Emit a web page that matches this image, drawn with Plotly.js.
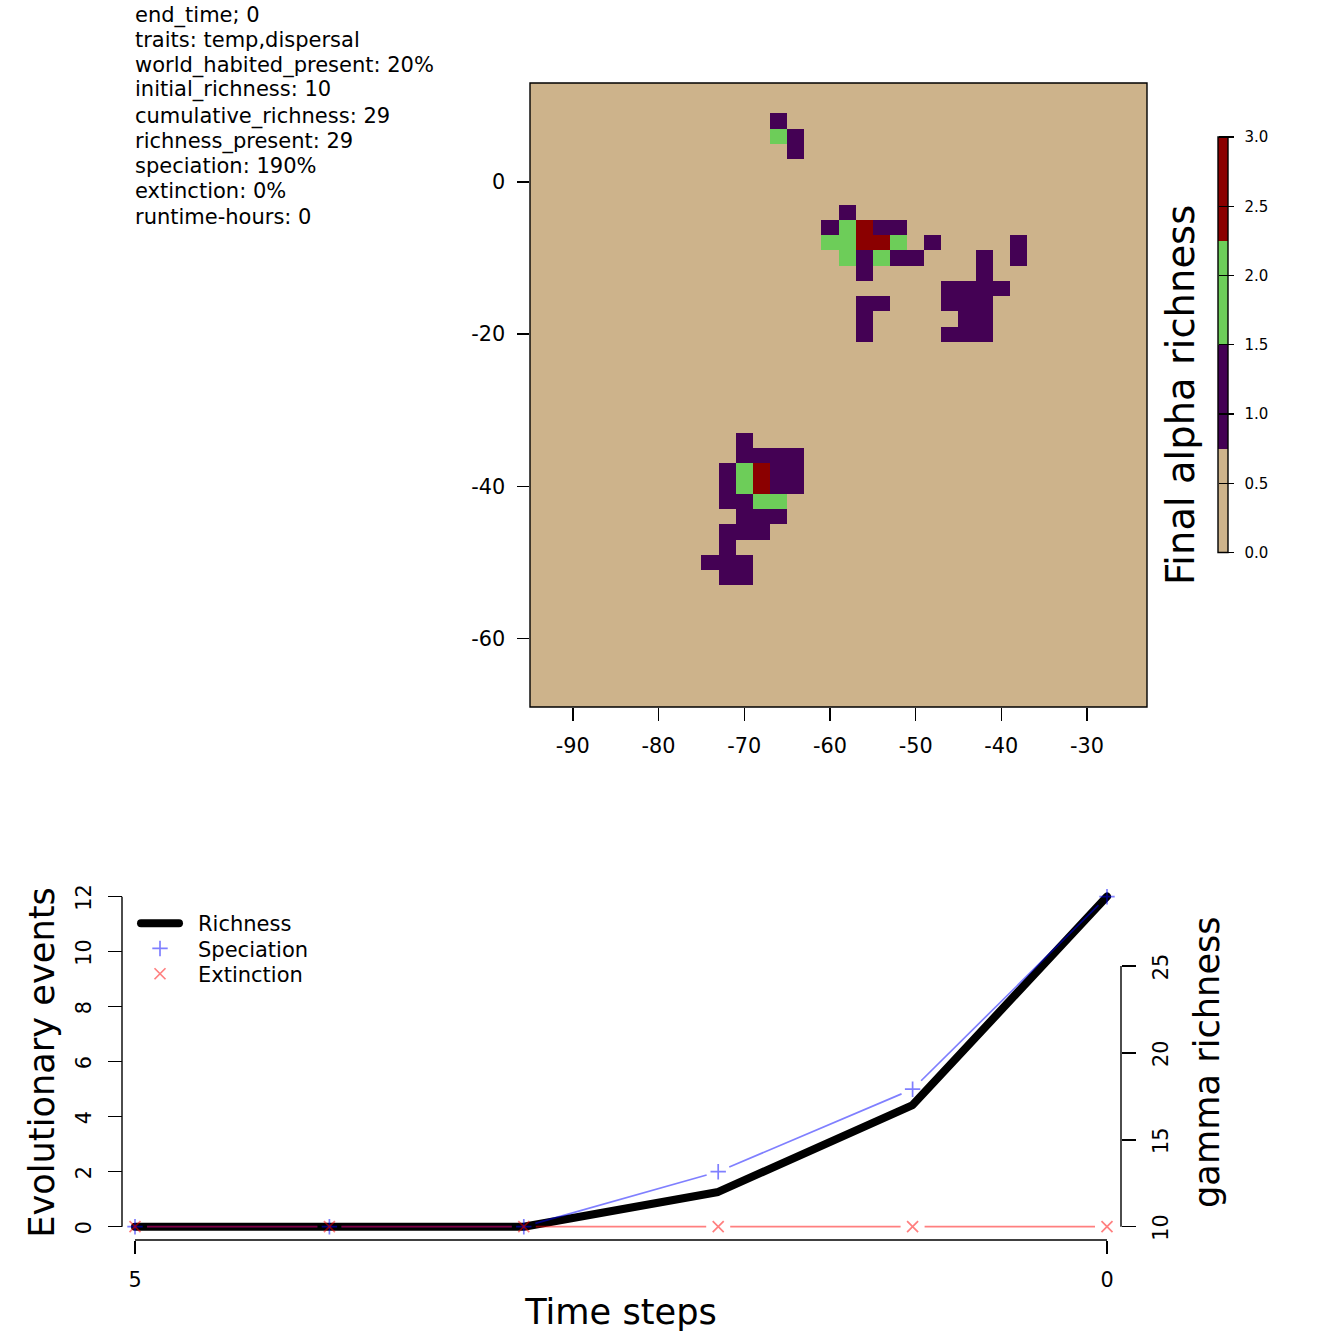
<!DOCTYPE html>
<html>
<head>
<meta charset="utf-8">
<script src="https://cdn.plot.ly/plotly-3.0.1.min.js"></script>
<style>
html,body{margin:0;padding:0;background:#fff}
#chart{width:1344px;height:1344px}
.round-ends{stroke-linecap:round;stroke-linejoin:round}
</style>
</head>
<body>
<div id="chart"></div>
<script>
// ---- info text ----
const infoLines = ["end_time; 0","traits: temp,dispersal","world_habited_present: 20%","initial_richness: 10","cumulative_richness: 29","richness_present: 29","speciation: 190%","extinction: 0%","runtime-hours: 0"];
const infoCentres = [15,40,65,90,116,141,166,191,217];

// ---- map grid (2 degree cells), non-empty cells listed per latitude ----
const gridLon = [-94,-92,-90,-88,-86,-84,-82,-80,-78,-76,-74,-72,-70,-68,-66,-64,-62,-60,-58,-56,-54,-52,-50,-48,-46,-44,-42,-40,-38,-36,-34,-32,-30,-28,-26,-24];
const gridLat = [12,10,8,6,4,2,0,-2,-4,-6,-8,-10,-12,-14,-16,-18,-20,-22,-24,-26,-28,-30,-32,-34,-36,-38,-40,-42,-44,-46,-48,-50,-52,-54,-56,-58,-60,-62,-64,-66,-68];
const cellLat = [8,6,6,4,
 -4,
 -6,-6,-6,-6,-6,
 -8,-8,-8,-8,-8,-8,-8,
 -10,-10,-10,-10,-10,-10,-10,
 -12,-12,
 -14,-14,-14,-14,
 -16,-16,-16,-16,-16,
 -18,-18,-18,
 -20,-20,-20,-20,
 -34,
 -36,-36,-36,-36,
 -38,-38,-38,-38,-38,
 -40,-40,-40,-40,-40,
 -42,-42,-42,-42,
 -44,-44,-44,
 -46,-46,-46,
 -48,
 -50,-50,-50,
 -52,-52];
const cellLon = [-66,-66,-64,-64,
 -58,
 -60,-58,-56,-54,-52,
 -60,-58,-56,-54,-52,-48,-38,
 -58,-56,-54,-52,-50,-42,-38,
 -56,-42,
 -46,-44,-42,-40,
 -56,-54,-46,-44,-42,
 -56,-44,-42,
 -56,-46,-44,-42,
 -70,
 -70,-68,-66,-64,
 -72,-70,-68,-66,-64,
 -72,-70,-68,-66,-64,
 -72,-70,-68,-66,
 -70,-68,-66,
 -72,-70,-68,
 -72,
 -74,-72,-70,
 -72,-70];
const cellRichness = [1,2,1,1,
 1,
 1,2,3,1,1,
 2,2,3,3,2,1,1,
 2,1,2,1,1,1,1,
 1,1,
 1,1,1,1,
 1,1,1,1,1,
 1,1,1,
 1,1,1,1,
 1,
 1,1,1,1,
 1,2,3,1,1,
 1,2,3,1,1,
 1,1,2,2,
 1,1,1,
 1,1,1,
 1,
 1,1,1,
 1,1];

// ---- map axes ----
const lonTicks = [-90,-80,-70,-60,-50,-40,-30];
const lonLabels = ["-90","-80","-70","-60","-50","-40","-30"];
const latTicks = [0,-20,-40,-60];
const latLabels = ["0","-20","-40","-60"];

// ---- colour key ----
const keyLevels = [0.375,1.125,1.875,2.625];
const keyTicks = [0,0.5,1,1.5,2,2.5,3];
const keyLabels = ["0.0","0.5","1.0","1.5","2.0","2.5","3.0"];
const richnessColours = ["#CDB38B","#440154","#6DCD59","#8B0000"];

// ---- time series ----
const timeSteps = [5,4,3,2,1,0];
const richness = [10,10,10,12,17,29];
const speciation = [0,0,0,2,5,12];
const extinction = [0,0,0,0,0,0];
const timeTicks = [5,0];
const eventTicks = [0,2,4,6,8,10,12];
const gammaTicks = [10,15,20,25];

// ---- geometry helpers ----
const S = 1344;
const fx = p => p / S;
const fy = p => 1 - p / S;
const FONT = "DejaVu Sans";
const tickFont = {family: FONT, size: 20.8, color: "#000"};
const titleFont = {family: FONT, size: 35.2, color: "#000"};
const LW = 1.4, DATA_LW = 1.7;

const z = gridLat.map(() => gridLon.map(() => 0));
cellLat.forEach((la, i) => { z[gridLat.indexOf(la)][gridLon.indexOf(cellLon[i])] = cellRichness[i]; });

const colourscale = [];
richnessColours.forEach((c, i) => { colourscale.push([i / 4, c], [(i + 1) / 4, c]); });

// Time-series frame: plot area is a little larger than the visible axis lines,
// so that thick lines at the extremes are not clipped.
const X0 = 135, X1 = 1107, EV0 = 1226.7, EV12 = 896.7, GAM25 = 966;
const FR_L = 125, FR_R = 1117, FR_B = 1240, FR_T = 885;
const pxPerStep = (X1 - X0) / 5, pxPerEvent = (EV0 - EV12) / 12, pxPerGamma = (EV0 - GAM25) / 15;
const timeRange = [5 + (X0 - FR_L) / pxPerStep, -(FR_R - X1) / pxPerStep];
const eventRange = [-(FR_B - EV0) / pxPerEvent, (EV0 - FR_T) / pxPerEvent];
const gammaRange = [10 - (FR_B - EV0) / pxPerGamma, 10 + (EV0 - FR_T) / pxPerGamma];

// R's type="b" leaves a gap round each point: express it as a dash list on the path
const GAP = 12;
function gapDash(values) {
  const parts = ["0px", GAP + "px"];
  for (let i = 1; i < values.length; i++) {
    const len = Math.hypot(pxPerStep, (values[i] - values[i - 1]) * pxPerEvent);
    parts.push((len - 2 * GAP).toFixed(2) + "px");
    parts.push(2 * GAP + "px");
  }
  return parts.join(",");
}

const BLUE = "rgba(0,0,255,0.5)", RED = "rgba(255,0,0,0.5)";

const data = [
  {type: "heatmap", x: gridLon, y: gridLat, z: z, zmin: 0, zmax: 3, colorscale: colourscale, showscale: false, xaxis: "x", yaxis: "y", hoverinfo: "skip"},
  {type: "heatmap", x: [0], y: keyLevels, z: keyLevels.map(v => [v]), zmin: 0, zmax: 3, colorscale: colourscale, showscale: false, xaxis: "x2", yaxis: "y2", hoverinfo: "skip"},
  {type: "scatter", mode: "lines", name: "Richness", x: timeSteps, y: richness, xaxis: "x3", yaxis: "y3", cliponaxis: false,
   line: {color: "#000", width: 8}},
  {type: "scatter", mode: "lines", showlegend: false, x: timeSteps, y: speciation, xaxis: "x3", yaxis: "y4", cliponaxis: false,
   line: {color: BLUE, width: DATA_LW, dash: gapDash(speciation)}},
  {type: "scatter", mode: "markers", name: "Speciation", x: timeSteps, y: speciation, xaxis: "x3", yaxis: "y4", cliponaxis: false,
   marker: {symbol: "cross-thin", size: 11, color: BLUE, line: {color: BLUE, width: DATA_LW}}},
  {type: "scatter", mode: "lines", showlegend: false, x: timeSteps, y: extinction, xaxis: "x3", yaxis: "y4", cliponaxis: false,
   line: {color: RED, width: DATA_LW, dash: gapDash(extinction)}},
  {type: "scatter", mode: "markers", name: "Extinction", x: timeSteps, y: extinction, xaxis: "x3", yaxis: "y4", cliponaxis: false,
   marker: {symbol: "x-thin", size: 11, color: RED, line: {color: RED, width: DATA_LW}}}
];

const annotations = infoLines.map((t, i) => ({
  text: t, xref: "paper", yref: "paper", x: fx(133.5), y: fy(infoCentres[i]), xanchor: "left", yanchor: "middle",
  showarrow: false, borderpad: 0, font: {family: FONT, size: 21, color: "#000"}
}));
annotations.push({text: "Final alpha richness", xref: "paper", yref: "paper", x: fx(1180), y: fy(395), xanchor: "center", yanchor: "middle", textangle: -90, showarrow: false, font: {family: FONT, size: 38.5, color: "#000"}, borderpad: 0});
annotations.push({text: "gamma richness", xref: "paper", yref: "paper", x: fx(1206), y: fy(1062), xanchor: "center", yanchor: "middle", textangle: -90, showarrow: false, font: titleFont, borderpad: 0});

const blackLine = {color: "#000", width: LW};
const layout = {
  width: S, height: S, margin: {l: 0, r: 0, t: 0, b: 0}, paper_bgcolor: "#fff", plot_bgcolor: "rgba(0,0,0,0)",
  font: {family: FONT, color: "#000"},
  showlegend: true,
  legend: {x: fx(136), y: fy(903), xanchor: "left", yanchor: "top", bgcolor: "rgba(0,0,0,0)", borderwidth: 0,
           font: {family: FONT, size: 21, color: "#000"}, itemwidth: 38, traceorder: "normal"},
  annotations: annotations,
  shapes: [
    {type: "rect", xref: "x2 domain", yref: "y2 domain", x0: 0, x1: 1, y0: 0, y1: 1, line: blackLine, layer: "above"},
    {type: "rect", xref: "x domain", yref: "y domain", x0: 0, x1: 1, y0: 0, y1: 1, line: blackLine, layer: "above"},
    {type: "line", xref: "x3", yref: "paper", x0: timeSteps[0], x1: timeSteps[5], y0: fy(FR_B), y1: fy(FR_B), line: blackLine},
    {type: "line", xref: "paper", yref: "y4", x0: fx(122), x1: fx(122), y0: eventTicks[0], y1: eventTicks[6], line: blackLine},
    {type: "line", xref: "paper", yref: "y3", x0: fx(1121), x1: fx(1121), y0: gammaTicks[0], y1: gammaTicks[3], line: blackLine}
  ],
  xaxis: {domain: [fx(530), fx(1147)], range: [-95, -23], anchor: "y", tickmode: "array", tickvals: lonTicks, ticktext: lonLabels,
          ticks: "outside", ticklen: 12.5, tickwidth: LW, tickcolor: "#000", showline: false,
          showgrid: false, zeroline: false, tickfont: tickFont, ticklabelstandoff: 8, tickangle: 0},
  yaxis: {domain: [fy(707), fy(83)], range: [-69, 13], anchor: "x", tickmode: "array", tickvals: latTicks, ticktext: latLabels,
          ticks: "outside", ticklen: 12.5, tickwidth: LW, tickcolor: "#000", showline: false,
          showgrid: false, zeroline: false, tickfont: tickFont, ticklabelstandoff: 7, tickangle: 0},
  xaxis2: {domain: [fx(1218), fx(1228)], anchor: "y2", range: [-0.5, 0.5], showticklabels: false, ticks: "", showgrid: false, zeroline: false, showline: false},
  yaxis2: {domain: [fy(552.5), fy(137)], range: [0, 3], anchor: "free", position: fx(1217.5), side: "right", tickmode: "array", tickvals: keyTicks, ticktext: keyLabels,
           ticks: "outside", ticklen: 15, tickwidth: LW, tickcolor: "#000", showline: false, showgrid: false, zeroline: false,
           tickfont: {family: FONT, size: 15, color: "#000"}, ticklabelstandoff: 8, tickangle: 0},
  xaxis3: {domain: [fx(FR_L), fx(FR_R)], range: timeRange, anchor: "free", position: fy(FR_B), side: "bottom", tickmode: "array", tickvals: timeTicks,
           ticks: "outside", ticklen: 13, tickwidth: LW, tickcolor: "#000", showline: false,
           showgrid: false, zeroline: false, tickfont: tickFont, ticklabelstandoff: 8, tickangle: 0,
           title: {text: "Time steps", font: titleFont, standoff: 8}},
  yaxis3: {domain: [fy(FR_B), fy(FR_T)], range: gammaRange, anchor: "free", position: fx(1121), side: "right", tickmode: "array", tickvals: gammaTicks,
           ticks: "outside", ticklen: 14, tickwidth: LW, tickcolor: "#000", showline: false,
           showgrid: false, zeroline: false, tickfont: tickFont, ticklabelstandoff: 7, ticklabelshift: 4, tickangle: -90},
  yaxis4: {domain: [fy(FR_B), fy(FR_T)], range: eventRange, anchor: "free", position: fx(122), side: "left", overlaying: "y3", tickmode: "array", tickvals: eventTicks,
           ticks: "outside", ticklen: 14, tickwidth: LW, tickcolor: "#000", showline: false,
           showgrid: false, zeroline: false, tickfont: tickFont, ticklabelstandoff: 9, ticklabelshift: 4, tickangle: -90,
           title: {text: "Evolutionary events", font: titleFont, standoff: 5}}
};

Plotly.newPlot("chart", data, layout, {staticPlot: true, displayModeBar: false}).then(gd => {
  // legend rows sit closer together than Plotly's default, text further from the key
  const ROW = 25.3, TEXT_SHIFT = 14;
  const box = gd.querySelector(".legend .scrollbox");
  if (box) box.removeAttribute("clip-path");
  const rows = gd.querySelectorAll(".legend .traces");
  let first = null;
  rows.forEach((row, i) => {
    const m = /translate\(([-\d.]+),\s*([-\d.]+)\)/.exec(row.getAttribute("transform"));
    if (first === null) first = +m[2];
    row.setAttribute("transform", `translate(${m[1]},${first + i * ROW})`);
    const t = row.querySelector(".legendtext");
    t.setAttribute("x", +t.getAttribute("x") + TEXT_SHIFT);
    t.querySelectorAll("tspan").forEach(s => { if (s.hasAttribute("x")) s.setAttribute("x", +s.getAttribute("x") + TEXT_SHIFT); });
    row.querySelectorAll(".js-line").forEach(p => p.classList.add("round-ends"));
  });
  const black = gd.querySelector(".scatterlayer .trace .js-line");
  if (black) black.classList.add("round-ends");
});
</script>
</body>
</html>
